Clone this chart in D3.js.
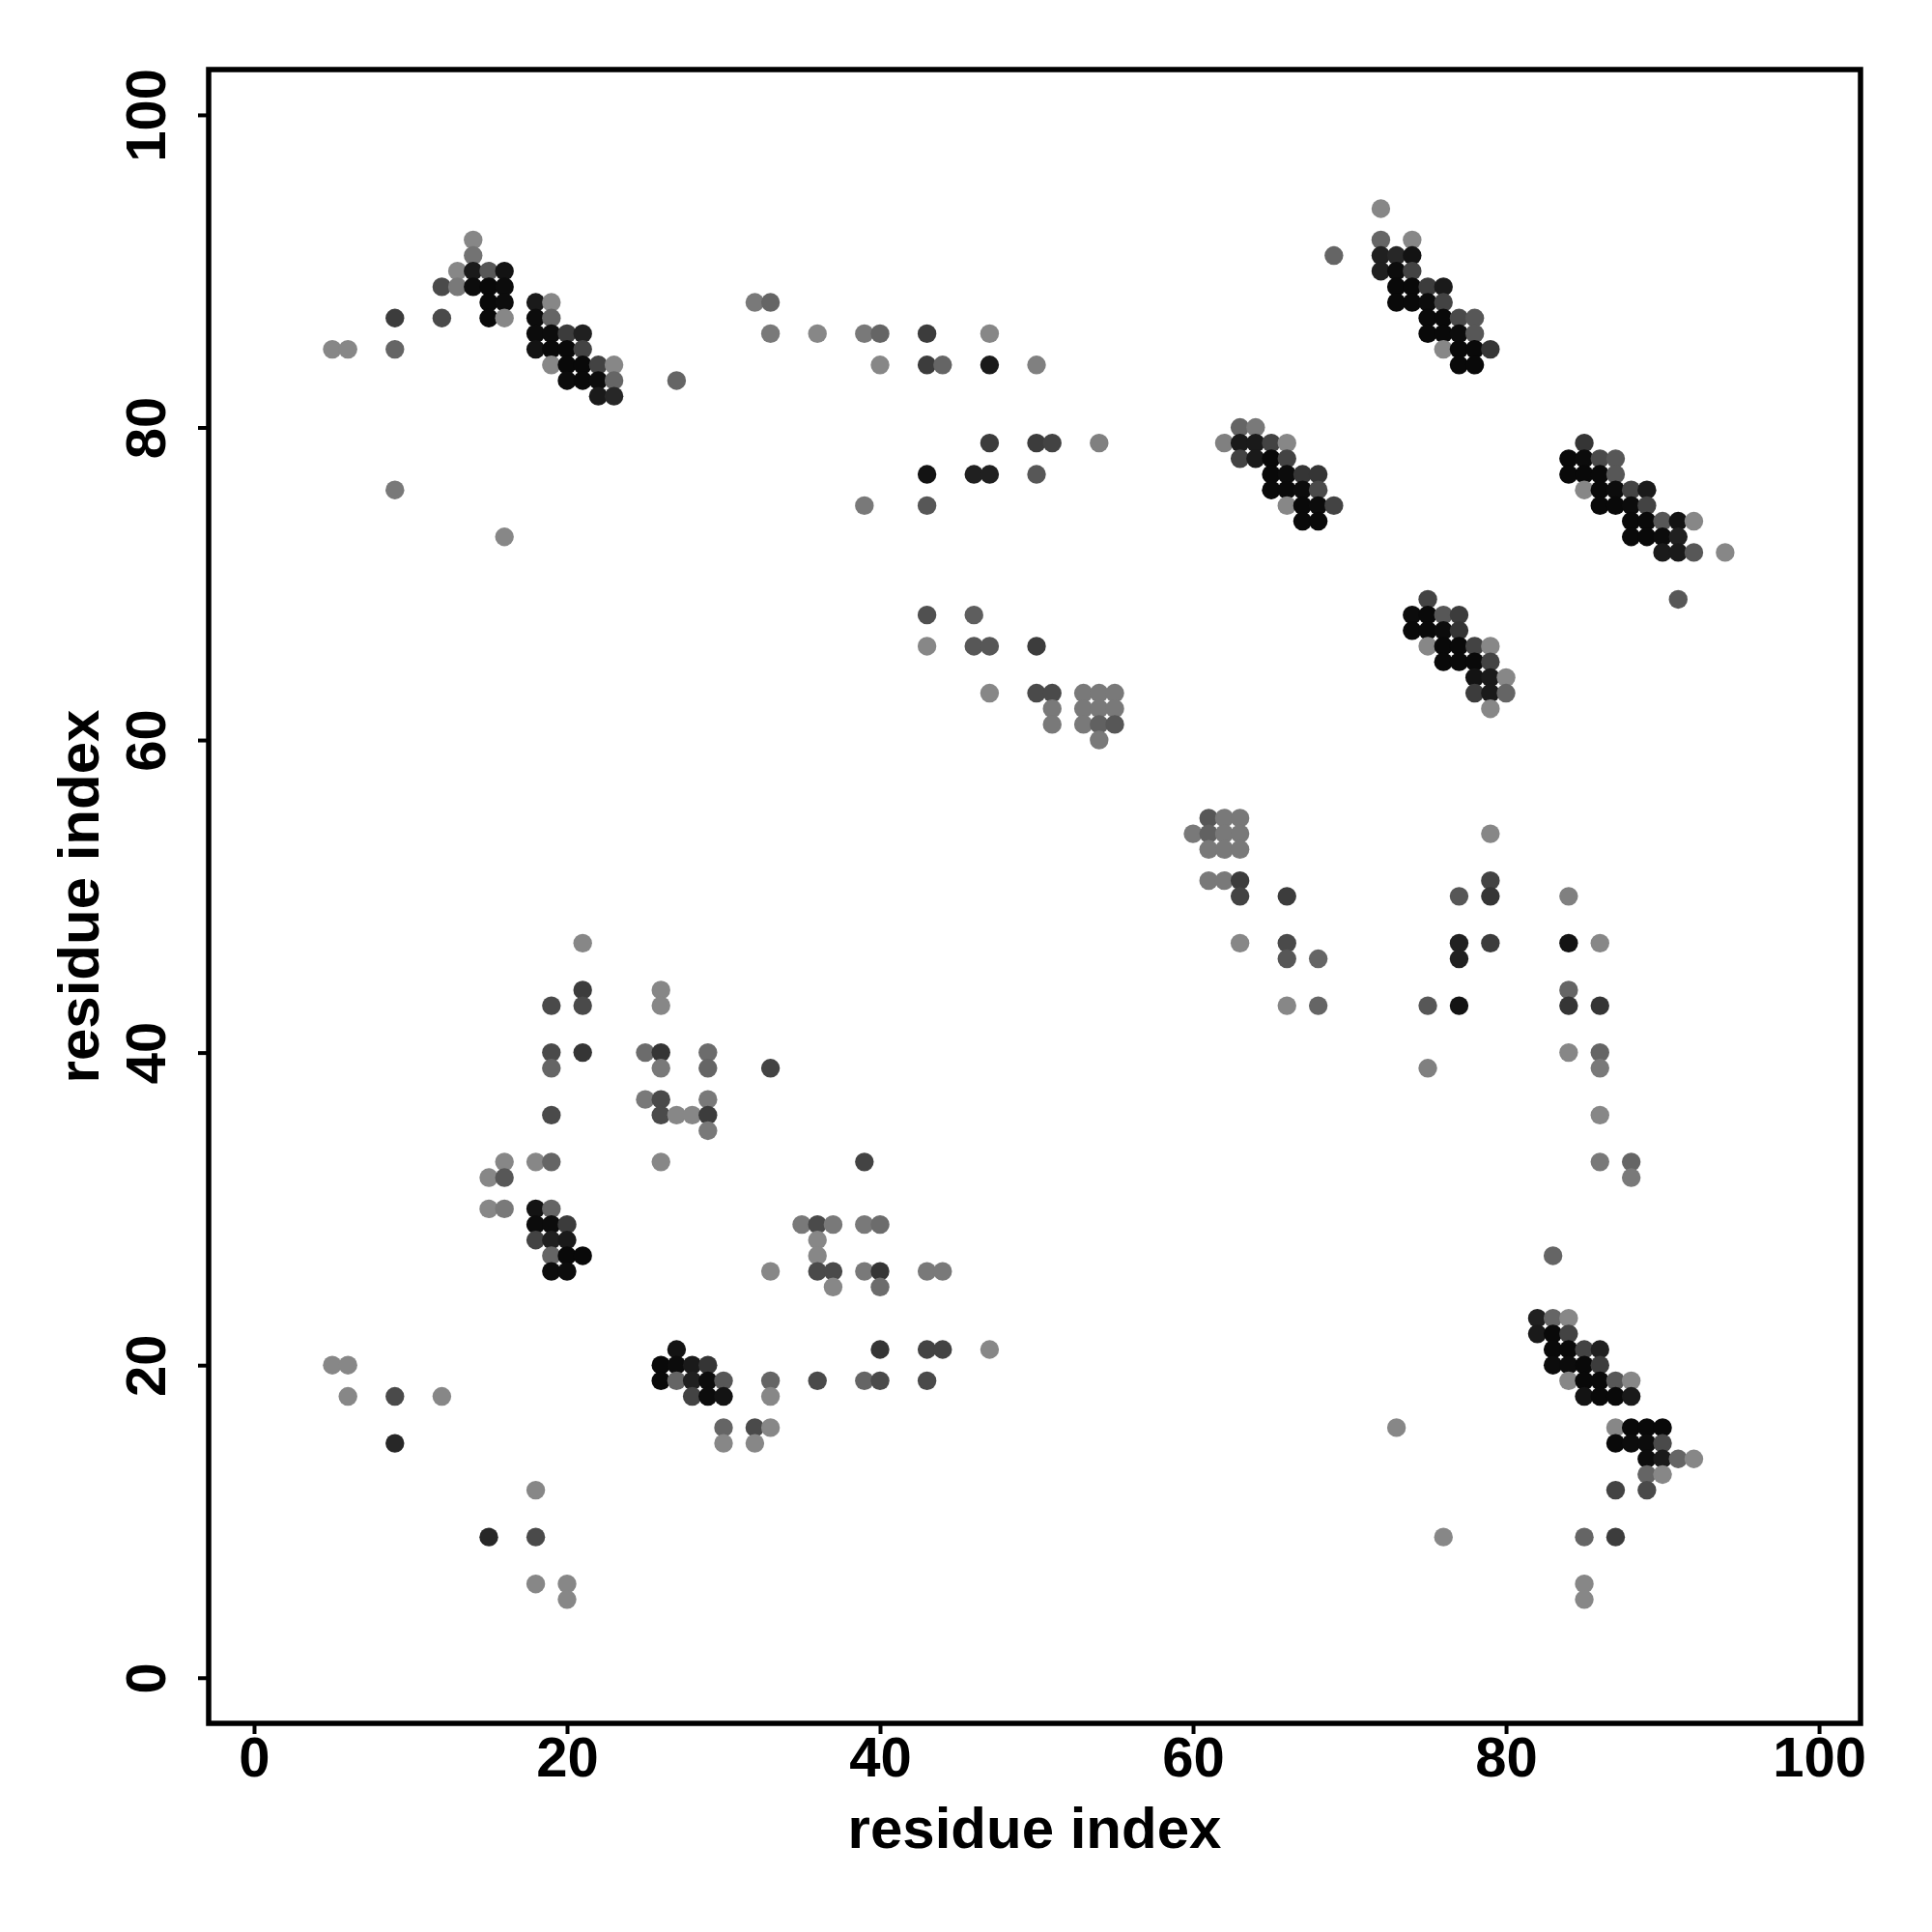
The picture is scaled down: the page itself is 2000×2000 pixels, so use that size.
<!DOCTYPE html>
<html>
<head>
<meta charset="utf-8">
<script src="https://cdn.jsdelivr.net/npm/d3@7"></script>
<style>
  html, body { margin: 0; padding: 0; background: #fff; }
  svg { display: block; }
</style>
</head>
<body>
<script>
// ---- data: [residue i (x), residue j (y), contact probability] ----
const clusterTopLeft = [
  [14,92,.05],
  [14,91,.2],
  [13,90,.05],[14,90,.85],[15,90,.4],[16,90,.9],
  [12,89,.5],[13,89,.15],[14,89,.95],[15,89,.97],[16,89,.95],
  [15,88,.97],[16,88,.95],[18,88,.85],[19,88,.05],
  [9,87,.6],[12,87,.5],[15,87,.97],[16,87,.05],[18,87,.95],[19,87,.3],
  [18,86,.95],[19,86,.95],[20,86,.6],[21,86,.8],
  [5,85,.05],[6,85,.05],[9,85,.3],[18,85,.9],[19,85,.97],[20,85,.97],[21,85,.55],
  [19,84,.05],[20,84,.97],[21,84,.97],[22,84,.55],[23,84,.05],
  [20,83,.95],[21,83,.97],[22,83,.95],[23,83,.3],[27,83,.3],
  [22,82,.85],[23,82,.75],
  [9,76,.15],[16,73,.05]
];
const clusterTopMiddle = [
  [32,88,.15],[33,88,.3],[33,86,.15],[36,86,.05],[39,86,.15],[40,86,.3],[43,86,.6],[47,86,.05],
  [40,84,.05],[43,84,.6],[44,84,.3],[47,84,.85],[50,84,.1],
  [47,79,.6],[50,79,.6],[51,79,.55],[54,79,.1],
  [43,77,.9],[46,77,.8],[47,77,.8],[50,77,.4],
  [39,75,.15],[43,75,.4],
  [43,68,.45],[46,68,.35],
  [43,66,.05],[46,66,.4],[47,66,.4],[50,66,.6],
  [47,63,.05],[50,63,.5],[51,63,.5],[53,63,.15],[54,63,.15],[55,63,.15],
  [51,62,.15],[53,62,.15],[54,62,.15],[55,62,.15],
  [51,61,.15],[53,61,.15],[54,61,.33],[55,61,.4],
  [54,60,.15]
];
const strandA = [
  [72,94,.05],
  [72,92,.3],[74,92,.05],
  [69,91,.3],[72,91,.8],[73,91,.75],[74,91,.9],
  [72,90,.8],[73,90,.95],[74,90,.55],
  [73,89,.97],[74,89,.97],[75,89,.6],[76,89,.85],
  [73,88,.97],[74,88,.97],[75,88,.95],[76,88,.55],
  [75,87,.97],[76,87,.97],[77,87,.5],[78,87,.4],
  [75,86,.97],[76,86,.97],[77,86,.95],[78,86,.4],
  [76,85,.05],[77,85,.97],[78,85,.97],[79,85,.65],
  [77,84,.97],[78,84,.97]
];
const strandB = [
  [63,80,.3],[64,80,.15],
  [62,79,.1],[63,79,.85],[64,79,.85],[65,79,.55],[66,79,.05],
  [63,78,.55],[64,78,.85],[65,78,.97],[66,78,.55],
  [65,77,.97],[66,77,.95],[67,77,.65],[68,77,.65],
  [65,76,.97],[66,76,.97],[67,76,.95],[68,76,.5],
  [66,75,.05],[67,75,.97],[68,75,.95],[69,75,.55],
  [67,74,.97],[68,74,.97]
];
const strandC = [
  [85,79,.65],
  [84,78,.97],[85,78,.95],[86,78,.5],[87,78,.4],
  [84,77,.97],[85,77,.97],[86,77,.97],[87,77,.4],
  [85,76,.05],[86,76,.97],[87,76,.95],[88,76,.55],[89,76,.85],
  [86,75,.97],[87,75,.97],[88,75,.95],[89,75,.55],
  [88,74,.97],[89,74,.97],[90,74,.4],[91,74,.9],[92,74,.05],
  [88,73,.97],[89,73,.97],[90,73,.95],[91,73,.8],
  [90,72,.85],[91,72,.85],[92,72,.4],[94,72,.05],
  [91,69,.4]
];
const strandD = [
  [75,69,.55],
  [74,68,.95],[75,68,.97],[76,68,.4],[77,68,.6],
  [74,67,.97],[75,67,.97],[76,67,.95],[77,67,.65],
  [75,66,.05],[76,66,.97],[77,66,.97],[78,66,.55],[79,66,.05],
  [76,65,.97],[77,65,.97],[78,65,.97],[79,65,.55],
  [78,64,.9],[79,64,.85],[80,64,.05],
  [78,63,.6],[79,63,.85],[80,63,.3],
  [79,62,.05]
];
const clusterCentre = [
  [61,55,.4],[62,55,.15],[63,55,.15],
  [60,54,.15],[61,54,.33],[62,54,.15],[63,54,.15],
  [61,53,.15],[62,53,.15],[63,53,.15],
  [61,51,.15],[62,51,.15],[63,51,.6],
  [63,50,.55],[66,50,.6],
  [63,47,.05],[66,47,.5],
  [66,46,.4],[68,46,.3],
  [66,43,.05],[68,43,.3]
];
const clusterRightMiddle = [
  [79,54,.05],
  [79,51,.55],
  [77,50,.4],[79,50,.65],[84,50,.1],
  [77,47,.8],[79,47,.6],[84,47,.9],[86,47,.05],
  [77,46,.8],
  [84,44,.3],
  [75,43,.4],[77,43,.9],[84,43,.65],[86,43,.65],
  [84,40,.05],[86,40,.3],
  [75,39,.1],[86,39,.15],
  [86,36,.05],
  [86,33,.15],[88,33,.3],
  [88,32,.15]
];
const clusterBottomLeft = [
  [21,47,.05],
  [21,44,.6],[26,44,.05],
  [19,43,.5],[21,43,.5],[26,43,.05],
  [19,40,.5],[21,40,.65],[25,40,.25],[26,40,.65],[29,40,.25],
  [19,39,.3],[26,39,.15],[29,39,.3],[33,39,.55],
  [25,37,.15],[26,37,.5],[29,37,.15],
  [19,36,.5],[26,36,.5],[27,36,.05],[28,36,.05],[29,36,.6],
  [29,35,.15],
  [16,33,.05],[18,33,.05],[19,33,.3],[26,33,.05],[39,33,.55],
  [15,32,.05],[16,32,.4],
  [15,30,.05],[16,30,.15],[18,30,.9],[19,30,.3],
  [18,29,.95],[19,29,.95],[20,29,.6],[35,29,.15],[36,29,.5],[37,29,.15],[39,29,.15],[40,29,.25],
  [18,28,.55],[19,28,.8],[20,28,.85],[36,28,.05],
  [19,27,.3],[20,27,.97],[21,27,.97],[36,27,.05],
  [19,26,.95],[20,26,.95],[33,26,.05],[36,26,.5],[37,26,.5],[39,26,.15],[40,26,.65],[43,26,.15],[44,26,.15],
  [37,25,.05],[40,25,.25],
  [27,21,.9],[40,21,.65],[43,21,.55],[44,21,.55],[47,21,.05],
  [5,20,.05],[6,20,.05],[26,20,.97],[27,20,.95],[28,20,.85],[29,20,.65],
  [26,19,.97],[27,19,.3],[28,19,.8],[29,19,.95],[30,19,.4],[33,19,.3],[36,19,.5],[39,19,.3],[40,19,.5],[43,19,.5],
  [6,18,.05],[9,18,.5],[12,18,.05],[28,18,.55],[29,18,.95],[30,18,.9],[33,18,.05],
  [30,16,.3],[32,16,.5],[33,16,.05],
  [9,15,.75],[30,15,.05],[32,15,.05],
  [18,12,.05],
  [15,9,.75],[18,9,.5],
  [18,6,.05],[20,6,.05],
  [20,5,.05]
];
const clusterBottomRight = [
  [83,27,.3],
  [82,23,.8],[83,23,.3],[84,23,.05],
  [82,22,.85],[83,22,.97],[84,22,.55],
  [83,21,.97],[84,21,.97],[85,21,.55],[86,21,.8],
  [83,20,.95],[84,20,.95],[85,20,.97],[86,20,.6],
  [84,19,.05],[85,19,.97],[86,19,.97],[87,19,.4],[88,19,.05],
  [85,18,.9],[86,18,.97],[87,18,.97],[88,18,.85],
  [73,16,.05],[87,16,.05],[88,16,.97],[89,16,.97],[90,16,.97],
  [87,15,.97],[88,15,.95],[89,15,.95],[90,15,.5],
  [89,14,.95],[90,14,.85],[91,14,.3],[92,14,.05],
  [89,13,.3],[90,13,.05],
  [87,12,.55],[89,12,.5],
  [76,9,.05],[85,9,.3],[87,9,.6],
  [85,6,.05],[85,5,.05]
];
const xTicks = [0, 20, 40, 60, 80, 100];
const yTicks = [0, 20, 40, 60, 80, 100];
const xTitle = "residue index";
const yTitle = "residue index";

// ---- drawing ----
const W = 2000, H = 2000;
const box = { left: 216, right: 1926, top: 72, bottom: 1784 };
const svg = d3.select("body").append("svg").attr("width", W).attr("height", H)
  .style("font-family", "'Liberation Sans', Arial, Helvetica, sans-serif");

const x = d3.scaleLinear().domain([-2.9, 102.65]).range([box.left, box.right]);
const y = d3.scaleLinear().domain([-2.92, 102.9]).range([box.bottom, box.top]);
const shade = d3.scaleLinear().domain([0, 1]).range(["#8e8e8e", "#050505"]);

const contacts = [].concat(clusterTopLeft, clusterTopMiddle, strandA, strandB, strandC,
  strandD, clusterCentre, clusterRightMiddle, clusterBottomLeft, clusterBottomRight);

svg.append("g").selectAll("circle").data(contacts).join("circle")
  .attr("cx", d => x(d[0]))
  .attr("cy", d => y(d[1]))
  .attr("r", 9.7)
  .attr("fill", d => shade(d[2]));

// frame
svg.append("rect")
  .attr("x", box.left).attr("y", box.top)
  .attr("width", box.right - box.left).attr("height", box.bottom - box.top)
  .attr("fill", "none").attr("stroke", "#000").attr("stroke-width", 5.5);

// x axis
const gx = svg.append("g").attr("transform", `translate(0,${box.bottom})`)
  .call(d3.axisBottom(x).tickValues(xTicks).tickSize(11).tickPadding(3).tickFormat(d3.format("d")));
gx.select(".domain").remove();
gx.selectAll(".tick line").attr("stroke", "#000").attr("stroke-width", 4);
gx.selectAll(".tick text").attr("fill", "#000").style("font-size", "58px").style("font-weight", "bold");

// y axis
const gy = svg.append("g").attr("transform", `translate(${box.left},0)`)
  .call(d3.axisLeft(y).tickValues(yTicks).tickSize(11).tickFormat(d3.format("d")));
gy.select(".domain").remove();
gy.selectAll(".tick line").attr("stroke", "#000").attr("stroke-width", 4);
gy.selectAll(".tick text")
  .attr("x", null).attr("dy", null)
  .attr("text-anchor", "middle")
  .attr("transform", "translate(-45,0) rotate(-90)")
  .attr("fill", "#000").style("font-size", "58px").style("font-weight", "bold");

// titles
svg.append("text")
  .attr("x", (box.left + box.right) / 2).attr("y", 1913)
  .attr("text-anchor", "middle")
  .style("font-size", "60px").style("font-weight", "bold")
  .text(xTitle);
svg.append("text")
  .attr("transform", `translate(102,${(box.top + box.bottom) / 2}) rotate(-90)`)
  .attr("text-anchor", "middle")
  .style("font-size", "60px").style("font-weight", "bold")
  .text(yTitle);
</script>
</body>
</html>
